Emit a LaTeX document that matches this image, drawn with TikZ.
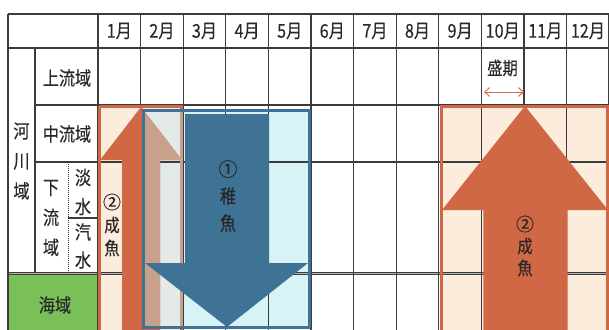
\documentclass[tikz,border=0pt]{standalone}
\usepackage{fontspec}
\newfontfamily\jp[FakeBold=0.35]{Noto Sans CJK JP}
\usetikzlibrary{arrows.meta}
\definecolor{gridc}{RGB}{60,60,60}
\definecolor{txt}{RGB}{40,40,40}
\definecolor{orng}{RGB}{208,104,70}
\definecolor{peach}{RGB}{252,236,220}
\definecolor{bluea}{RGB}{62,115,150}
\definecolor{cyanl}{RGB}{215,243,246}
\definecolor{tan}{RGB}{200,160,140}
\definecolor{lgray}{RGB}{228,234,232}
\definecolor{seag}{RGB}{122,192,88}
\newcommand\sq[1]{\scalebox{0.85}[1]{#1}}
\begin{document}
\begin{tikzpicture}[x=1pt,y=-1pt,
  gridline/.style={draw=gridc, line width=1.3pt},
  lab/.style={inner sep=0pt, text=txt, font=\jp\fontsize{19}{30}\selectfont},
  vlab/.style={lab, align=center},
  arrlab/.style={inner sep=0pt, text=txt, align=center, font=\jp\fontsize{18}{23}\selectfont}]
\useasboundingbox (0,0) rectangle (609,329);
\begin{scope}
\clip (0,0) rectangle (609,329);
% fills
\fill[seag] (8,274) rectangle (98,335);
\fill[peach] (98,105) rectangle (183,335);
\fill[peach] (440,105) rectangle (609,335);
\fill[cyanl] (143,110) rectangle (310,328);
\begin{scope}
  \clip (143,110) rectangle (310,328);
  \fill[lgray] (143,105) rectangle (183,335);
\end{scope}
% grid
\draw[gridline] (8,14) -- (609,14);
\draw[gridline] (8,48) -- (609,48);
\draw[gridline] (35,105) -- (609,105);
\draw[gridline] (35,162) -- (609,162);
\draw[gridline] (68,218) -- (98,218);
\draw[draw=gridc, line width=1pt, double=gray!60, double distance=1.2pt] (8,273.5) -- (609,273.5);
\draw[gridline] (8,14) -- (8,335);
\draw[gridline] (35,48) -- (35,273);
\draw[draw=gridc, line width=1pt, densely dotted] (68,162) -- (68,273);
\foreach \i in {0,...,12} {
  \draw[gridline] ({98+42.6*\i},14) -- ({98+42.6*\i},335);
}
\draw[gridline] (608.3,14) -- (608.3,335);
% left adult arrow
\fill[orng] (122,335) -- (122,160) -- (100,160) -- (141,107) -- (182,160) -- (160,160) -- (160,335) -- cycle;
\draw[orng, line width=3pt] (99.5,106.5) -- (181.5,106.5) -- (181.5,335);
\draw[orng, line width=3pt] (99.5,106.5) -- (99.5,335);
\begin{scope}
  \clip (144,111) rectangle (310,328);
  \fill[tan] (122,335) -- (122,160) -- (100,160) -- (141,107) -- (182,160) -- (160,160) -- (160,335) -- cycle;
  \draw[tan, line width=3pt] (181.5,106.5) -- (181.5,335);
\end{scope}
% right adult arrow
\fill[orng] (483.3,335) -- (483.3,210) -- (442,210) -- (525,106) -- (608,210) -- (567.7,210) -- (567.7,335) -- cycle;
\draw[orng, line width=3pt] (441.5,335) -- (441.5,106.5) -- (607.5,106.5) -- (607.5,335);
% blue juvenile
\draw[bluea, line width=3pt] (143.5,110.5) rectangle (309.5,327.5);
\fill[bluea] (185,114) -- (269,114) -- (269,263) -- (308,263) -- (227,327) -- (145,263) -- (185,263) -- cycle;
\end{scope}
% header months
\foreach \i/\m in {1/1,2/2,3/3,4/4,5/5,6/6,7/7,8/8,9/9,10/10,11/11,12/12} {
  \node[lab] (mon\i) at ({98+42.6*\i-21.3},31) {\sq{\m 月}};
}
\node[lab] (joryu) at (67,78) {\sq{上流域}};
\node[lab] (churyu) at (67,134) {\sq{中流域}};
\node[vlab] (kasen) at (21.5,161) {\sq{河}\\\sq{川}\\\sq{域}};
\node[vlab] (karyu) at (51,218) {\sq{下}\\\sq{流}\\\sq{域}};
\node[vlab, font=\jp\fontsize{19}{29}\selectfont] (tansui) at (83,192) {\sq{淡}\\\sq{水}};
\node[vlab, font=\jp\fontsize{19}{28}\selectfont] (kisui) at (83,246) {\sq{汽}\\\sq{水}};
\node[lab] (kaiiki) at (55,305) {\sq{海域}};
\node[lab, font=\jp\fontsize{18}{22}\selectfont] (seiki) at (502.5,68) {\sq{盛期}};
\coordinate (sa) at (484,92);
\coordinate (sb) at (524,92);
\draw[orng, line width=0.9pt, {Straight Barb[length=5pt,width=9pt]}-{Straight Barb[length=5pt,width=9pt]}] (sa) -- (sb);
\node[arrlab, font=\jp\fontsize{18}{23}\selectfont] (adultL) at (112,225) {②\\\sq{成}\\\sq{魚}};
\node[arrlab, font=\jp\fontsize{19}{27}\selectfont, text=black!85] (juv) at (228,196) {①\\\sq{稚}\\\sq{魚}};
\node[arrlab, font=\jp\fontsize{18}{22}\selectfont] (adultR) at (525,246) {②\\\sq{成}\\\sq{魚}};
\end{tikzpicture}
\end{document}
